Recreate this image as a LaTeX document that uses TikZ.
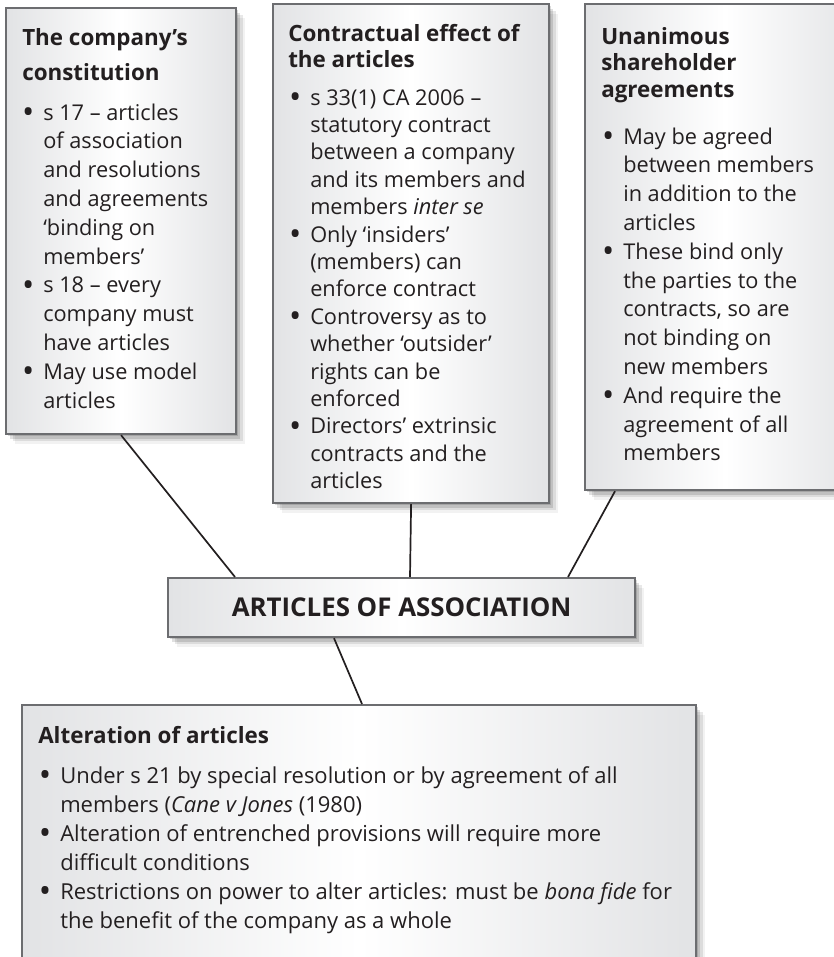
\documentclass[tikz,border=0pt]{standalone}
\usepackage{fontspec}
\setmainfont{Open Sans}
\usetikzlibrary{shadows}
\newdimen\pxu \pxu=0.75pt
\definecolor{boxline}{RGB}{108,109,112}
\definecolor{boxedge}{RGB}{226,227,229}
\definecolor{ink}{RGB}{35,31,32}
\newcommand\bl{\leavevmode\llap{\raisebox{-3.2\pxu}{\scalebox{1.5}{\textbullet}}\hspace{9\pxu}}}
\tikzset{
  panel/.style={rectangle, draw=boxline, line width=2.2\pxu, inner sep=0pt,
    left color=boxedge, right color=boxedge, middle color=white,
    drop shadow={shadow xshift=2\pxu, shadow yshift=-2\pxu, opacity=0.14, fill=black},
    drop shadow={shadow xshift=4\pxu, shadow yshift=-4.5\pxu, opacity=0.12, fill=black},
    drop shadow={shadow xshift=6.5\pxu, shadow yshift=-7\pxu, opacity=0.09, fill=black},
    drop shadow={shadow xshift=9\pxu, shadow yshift=-10\pxu, opacity=0.05, fill=black}},
  conn/.style={draw=ink, line width=1.7\pxu},
  txt/.style={anchor=base west, inner sep=0pt, text=ink},
}
\begin{document}
\begin{tikzpicture}[x=\pxu, y=-\pxu]
\useasboundingbox (0,0) rectangle (833,957);
\fill[white] (0,0) rectangle (833,957);
% boxes
\node[panel, anchor=north west, minimum width=230\pxu, minimum height=426\pxu] (b1) at (5,7) {};
\node[panel, anchor=north west, minimum width=276\pxu, minimum height=499\pxu] (b2) at (272,3) {};
\node[panel, anchor=north west, minimum width=280\pxu, minimum height=486\pxu] (b3) at (584,3) {};
\node[panel, anchor=north west, minimum width=467\pxu, minimum height=59\pxu] (c) at (167,577) {};
\node[panel, anchor=north west, minimum width=674\pxu, minimum height=290\pxu] (b4) at (21,704) {};
% connectors
\draw[conn] (b1.south) -- ([xshift=68\pxu]c.north west);
\draw[conn] (b2.south) -- ([xshift=243\pxu]c.north west);
\draw[conn] ([xshift=31\pxu]b3.south west) -- ([xshift=401\pxu]c.north west);
\draw[conn] ([xshift=167\pxu]c.south west) -- ([xshift=341\pxu]b4.north west);
% box 1
\node[txt] (t1) at (22,45) {\parbox[t]{220\pxu}{\fontsize{16.8}{26.25}\selectfont\bfseries
The company’s\\constitution}};
\node[txt] (l1) at (43,120) {\parbox[t]{220\pxu}{\fontsize{16.3}{21.6}\selectfont
\bl s 17 – articles\\
of association\\
and resolutions\\
and agreements\\
‘binding on\\
members’\\
\bl s 18 – every\\
company must\\
have articles\\
\bl May use model\\
articles}};
% box 2
\node[txt] (t2) at (288,41) {\parbox[t]{260\pxu}{\fontsize{16.8}{19.5}\selectfont\bfseries
Contractual effect of\\the articles}};
\node[txt] (l2) at (310,105) {\parbox[t]{260\pxu}{\fontsize{16.3}{20.55}\selectfont
\bl s 33(1) CA 2006 –\\
statutory contract\\
between a company\\
and its members and\\
members \textit{inter se}\\
\bl Only ‘insiders’\\
(members) can\\
enforce contract\\
\bl Controversy as to\\
whether ‘outsider’\\
rights can be\\
enforced\\
\bl Directors’ extrinsic\\
contracts and the\\
articles}};
% box 3
\node[txt] (t3) at (601,44) {\parbox[t]{230\pxu}{\fontsize{16.8}{19.9}\selectfont\bfseries
Unanimous\\shareholder\\agreements}};
\node[txt] (l3) at (623,144) {\parbox[t]{230\pxu}{\fontsize{16.3}{21.6}\selectfont
\bl May be agreed\\
between members\\
in addition to the\\
articles\\
\bl These bind only\\
the parties to the\\
contracts, so are\\
not binding on\\
new members\\
\bl And require the\\
agreement of all\\
members}};
% centre
\node[inner sep=0pt, text=ink, font=\fontsize{19.4}{23}\selectfont\bfseries] (ct) at (c.center) {ARTICLES OF ASSOCIATION};
% bottom box
\node[txt] (t4) at (38,743) {\parbox[t]{640\pxu}{\fontsize{16.8}{21.75}\selectfont\bfseries
Alteration of articles}};
\node[txt] (l4) at (60,783) {\parbox[t]{640\pxu}{\fontsize{16.5}{21.75}\selectfont
\bl Under s 21 by special resolution or by agreement of all\\
members (\textit{Cane v Jones} (1980)\\
\bl Alteration of entrenched provisions will require more\\
difficult conditions\\
\bl Restrictions on power to alter articles: must be \textit{bona fide} for\\
the benefit of the company as a whole}};
\end{tikzpicture}
\end{document}
